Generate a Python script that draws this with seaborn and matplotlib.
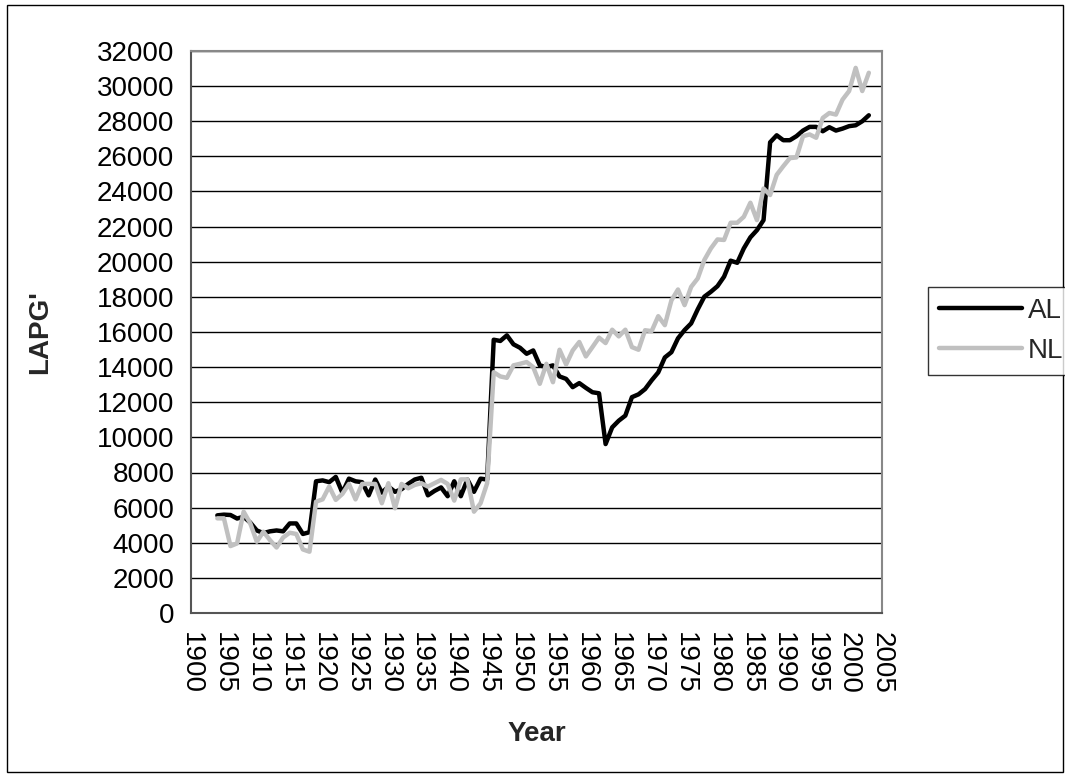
import seaborn as sns
import matplotlib.pyplot as plt
import pandas as pd
from matplotlib.lines import Line2D
from matplotlib.patches import Rectangle

sns.set_theme(style="white")
plt.rcParams['font.family'] = ['Liberation Sans', 'DejaVu Sans']

# seasons 1904-2003
years = list(range(1904, 2004))

al = [5560, 5600, 5580, 5380, 5480, 5150, 4700, 4550, 4650, 4700,
      4650, 5100, 5100, 4500, 4600, 7500, 7550, 7450, 7750, 6850,
      7650, 7500, 7450, 6700, 7600, 6850, 7200, 6900, 7050, 7350,
      7600, 7700, 6700, 6950, 7150, 6650, 7500, 6650, 7600, 6900,
      7650, 7600, 15560, 15490, 15810, 15300, 15100, 14760, 14950, 14100,
      14000, 14100, 13470, 13330, 12860, 13090, 12820, 12570, 12510, 9620,
      10570, 10950, 11240, 12290, 12450, 12750, 13250, 13700, 14550, 14850,
      15640, 16110, 16490, 17290, 18010, 18290, 18610, 19150, 20060, 19940,
      20760, 21390, 21800, 22370, 26800, 27200, 26920, 26920, 27150, 27470,
      27680, 27680, 27430, 27660, 27470, 27580, 27720, 27770, 28000, 28340]

nl = [5390, 5390, 3810, 3960, 5770, 5110, 4060, 4630, 4150, 3730,
      4300, 4570, 4500, 3620, 3490, 6340, 6470, 7200, 6440, 6780,
      7350, 6470, 7350, 7350, 7350, 6250, 7390, 5960, 7350, 7100,
      7290, 7390, 7200, 7390, 7580, 7350, 6400, 7610, 7610, 5770,
      6250, 7390, 13710, 13470, 13390, 14100, 14190, 14290, 14000, 13050,
      14190, 13140, 14990, 14150, 14950, 15430, 14610, 15140, 15680, 15370,
      16130, 15750, 16130, 15140, 14990, 16100, 16050, 16900, 16390, 17800,
      18420, 17530, 18570, 19050, 20100, 20760, 21270, 21240, 22220, 22220,
      22560, 23360, 22370, 24170, 23800, 24950, 25440, 25900, 25940, 27150,
      27250, 27060, 28190, 28470, 28380, 29230, 29720, 31040, 29720, 30760]

df = pd.DataFrame({'Year': years + years,
                   'LAPG': al + nl,
                   'League': ['AL'] * len(al) + ['NL'] * len(nl)})

colors = {'AL': 'black', 'NL': '#c0c0c0'}

fig = plt.figure(figsize=(10.65, 7.76), dpi=100)
ax = fig.add_axes([191 / 1065, 1 - 613 / 776, 691 / 1065, 562 / 776])

sns.lineplot(data=df, x='Year', y='LAPG', hue='League', palette=colors,
             linewidth=3.2, ax=ax, legend=False)

ax.set_xlim(1900, 2005)
ax.set_ylim(0, 32000)
ax.set_xticks(range(1900, 2006, 5))
ax.set_yticks(range(0, 32001, 2000))
ax.tick_params(axis='x', rotation=-90)
ax.tick_params(direction='out', length=8, width=1, color='#555555',
               labelsize=20, labelcolor='black', pad=4)
ax.tick_params(axis='x', pad=6)
ax.yaxis.grid(True, color='black', linewidth=1)
ax.set_axisbelow(True)

for side in ['left', 'bottom']:
    ax.spines[side].set_color('#555555')
    ax.spines[side].set_linewidth(1.5)
for side in ['top', 'right']:
    ax.spines[side].set_color('#888888')
    ax.spines[side].set_linewidth(1.5)

ax.set_ylabel("LAPG'", fontsize=20, fontweight='bold')
ax.set_xlabel('Year', fontsize=20, fontweight='bold')
ax.yaxis.set_label_coords(-0.2, 0.5)
ax.xaxis.set_label_coords(0.5, -0.192)

handles = [Line2D([], [], color=colors[k], linewidth=3.2) for k in ['AL', 'NL']]
leg = fig.legend(handles, ['AL', 'NL'], loc='center left',
                 bbox_to_anchor=(928 / 1065, 1 - 331 / 776),
                 fontsize=20, frameon=True, fancybox=False, handlelength=3.0,
                 handletextpad=0.2, borderpad=0.4, labelspacing=0.5,
                 borderaxespad=0)
leg.get_frame().set_edgecolor('black')
leg.get_frame().set_linewidth(1)

# outer chart border
fig.add_artist(Rectangle((7 / 1065, 4 / 776), 1056 / 1065, 767 / 776,
                         transform=fig.transFigure, fill=False,
                         edgecolor='black', linewidth=1))

fig.savefig('out.png', dpi=100)
